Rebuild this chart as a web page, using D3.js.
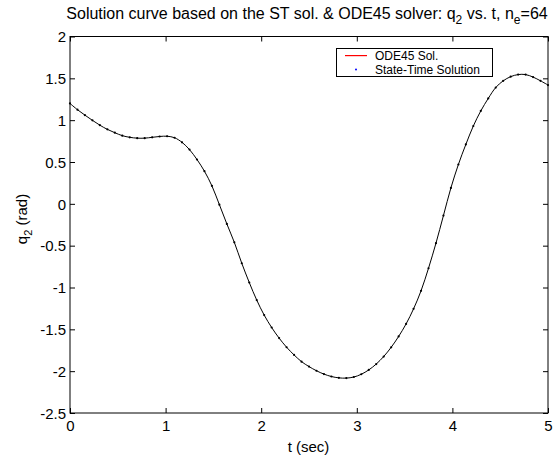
<!DOCTYPE html>
<html><head><meta charset="utf-8">
<script src="https://cdn.jsdelivr.net/npm/d3@7"></script>
<style>body{margin:0;background:#fff}svg{display:block;font-family:"Liberation Sans",Arial,sans-serif}</style>
</head><body>
<svg id="c" width="555" height="459"></svg>
<script>
const ne = 64;
const tEnd = 5;
const stValues = [1.200,1.125,1.060,0.998,0.940,0.890,0.850,0.815,0.795,0.785,0.785,0.795,0.805,0.808,0.790,0.735,
  0.648,0.530,0.390,0.215,-0.010,-0.240,-0.460,-0.710,-0.940,-1.150,-1.330,-1.478,-1.605,-1.714,-1.806,-1.886,
  -1.945,-1.995,-2.035,-2.064,-2.080,-2.083,-2.070,-2.037,-1.985,-1.915,-1.825,-1.715,-1.585,-1.435,-1.255,-1.040,
  -0.770,-0.470,-0.140,0.190,0.470,0.710,0.930,1.110,1.260,1.390,1.470,1.520,1.545,1.545,1.515,1.470,1.420];
const xTicks = [0,1,2,3,4,5];
const yTicks = [-2.5,-2,-1.5,-1,-0.5,0,0.5,1,1.5,2];
const legendLabels = ["ODE45 Sol.","State-Time Solution"];

const svg = d3.select("#c");
const L=70,R=548,T=36.5,B=413;
const x = d3.scaleLinear().domain([0,5]).range([L,R]);
const y = d3.scaleLinear().domain([-2.5,2]).range([B,T]);
const data = stValues.map((v,i)=>({t:i*tEnd/ne,q:v}));

// axes
const fs = 15;
const gx = svg.append("g").attr("transform",`translate(0,${B})`)
  .call(d3.axisBottom(x).tickValues(xTicks).tickFormat(d3.format("d")).tickSizeInner(-5).tickSizeOuter(0).tickPadding(7));
const gxt = svg.append("g").attr("transform",`translate(0,${T})`)
  .call(d3.axisTop(x).tickValues(xTicks).tickFormat("").tickSizeInner(-5).tickSizeOuter(0));
const gy = svg.append("g").attr("transform",`translate(${L},0)`)
  .call(d3.axisLeft(y).tickValues(yTicks).tickFormat(d=>String(d)).tickSizeInner(-5).tickSizeOuter(0).tickPadding(4));
const gyr = svg.append("g").attr("transform",`translate(${R},0)`)
  .call(d3.axisRight(y).tickValues(yTicks).tickFormat("").tickSizeInner(-5).tickSizeOuter(0));
[gx,gxt,gy,gyr].forEach(g=>{
  g.select(".domain").remove();
  g.selectAll("line").attr("stroke","#000");
  g.selectAll("text").attr("font-size",fs).attr("font-family","Liberation Sans, Arial, sans-serif").attr("fill","#000");
});
gy.selectAll("text").attr("dy","0.35em");
svg.append("rect").attr("x",L).attr("y",T).attr("width",R-L).attr("height",B-T)
  .attr("fill","none").attr("stroke","#000").attr("stroke-width",1);

// curves
const line = d3.line().x(d=>x(d.t)).y(d=>y(d.q)).curve(d3.curveCatmullRom);
svg.append("path").datum(data).attr("d",line).attr("fill","none").attr("stroke","#000").attr("stroke-width",1);
svg.append("g").selectAll("circle").data(data).join("circle")
  .attr("cx",d=>x(d.t)).attr("cy",d=>y(d.q)).attr("r",1.1).attr("fill","#000");

// title
const title = svg.append("text").attr("x",307).attr("y",19).attr("text-anchor","middle")
  .attr("font-size",16).attr("fill","#000");
title.append("tspan").text("Solution curve based on the ST sol. & ODE45 solver: q");
title.append("tspan").attr("font-size",12).attr("dy",5).text("2");
title.append("tspan").attr("dy",-5).text(" vs. t, n");
title.append("tspan").attr("font-size",12).attr("dy",5).text("e");
title.append("tspan").attr("dy",-5).text("=64");

// axis labels
svg.append("text").attr("x",308.5).attr("y",452).attr("text-anchor","middle").attr("font-size",15).text("t (sec)");
const yl = svg.append("text").attr("transform",`translate(27,219) rotate(-90)`).attr("text-anchor","middle").attr("font-size",15);
yl.append("tspan").text("q");
yl.append("tspan").attr("font-size",11).attr("dy",5).text("2");
yl.append("tspan").attr("dy",-5).text(" (rad)");

// legend
const lg = svg.append("g");
lg.append("rect").attr("x",336.5).attr("y",48.5).attr("width",156).attr("height",28).attr("fill","#fff").attr("stroke","#000");
lg.append("rect").attr("x",345).attr("y",55).attr("width",22).attr("height",1.2).attr("fill","#ff0000");
lg.append("circle").attr("cx",356).attr("cy",69.5).attr("r",1).attr("fill","#0000ff");
lg.selectAll("text").data(legendLabels).join("text").attr("x",375).attr("y",(d,i)=>55.5+i*14).attr("dy","0.35em")
  .attr("font-size",12).text(d=>d);
</script>
</body></html>
